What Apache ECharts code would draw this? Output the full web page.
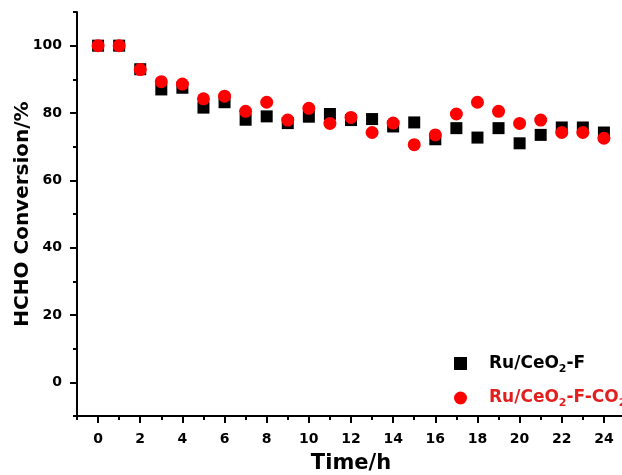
<!DOCTYPE html>
<html>
<head>
<meta charset="utf-8">
<script src="https://cdn.jsdelivr.net/npm/echarts@6/dist/echarts.min.js"></script>
<style>
  html, body { margin: 0; padding: 0; background: #fff; }
  #chart { width: 622px; height: 475px; }
</style>
</head>
<body>
<div id="chart"></div>
<script>
const hours = [0, 1, 2, 3, 4, 5, 6, 7, 8, 9, 10, 11, 12, 13, 14, 15, 16, 17, 18, 19, 20, 21, 22, 23, 24]
const ruF = [100, 100, 93, 87, 87.5, 81.6, 83.2, 78, 79, 77, 78.9, 79.7, 77.9, 78.2, 76, 77.2, 72.2, 75.5, 72.7, 75.5, 71, 73.5, 75.7, 75.7, 74.2]
const ruFCO2 = [100, 100, 92.9, 89.3, 88.6, 84.2, 85, 80.5, 83.2, 77.9, 81.4, 76.9, 78.7, 74.2, 77, 70.6, 73.5, 79.7, 83.2, 80.5, 76.9, 77.9, 74.2, 74.2, 72.5]
const xLabels = [0, 2, 4, 6, 8, 10, 12, 14, 16, 18, 20, 22, 24]
const yLabels = [0, 20, 40, 60, 80, 100]

const font = '"DejaVu Sans", Arial, sans-serif'
const chart = echarts.init(document.getElementById('chart'))

const tickLine = { color: '#000', width: 2 }

chart.setOption({
  backgroundColor: '#fff',
  animation: false,
  grid: { left: 77, right: -3, top: 12, bottom: 59, outerBoundsMode: 'none' },
  legend: {
    orient: 'vertical',
    left: 449,
    top: 350,
    itemWidth: 13,
    itemHeight: 13,
    itemGap: 15,
    selectedMode: false,
    data: [
      { name: 'Ru/CeO2-F', icon: 'rect' },
      { name: 'Ru/CeO2-F-CO2', icon: 'circle' },
    ],
    formatter: (name) =>
      name === 'Ru/CeO2-F'
        ? '{g|}{t|Ru/CeO}{s|2}{t|-F}'
        : '{g|}{r|Ru/CeO}{rs|2}{r|-F-CO}{rs|2}',
    textStyle: {
      fontFamily: font,
      rich: {
        g: { width: 17 },
        t: { color: '#000', fontSize: 17, fontWeight: 'bold', fontFamily: font, lineHeight: 22 },
        s: { color: '#000', fontSize: 11, fontWeight: 'bold', fontFamily: font, lineHeight: 12, verticalAlign: 'bottom' },
        r: { color: '#e11f1f', fontSize: 17, fontWeight: 'bold', fontFamily: font, lineHeight: 22 },
        rs: { color: '#e11f1f', fontSize: 11, fontWeight: 'bold', fontFamily: font, lineHeight: 12, verticalAlign: 'bottom' },
      },
    },
  },
  xAxis: [
    {
      type: 'value',
      min: -1,
      max: 25,
      interval: 1,
      name: 'Time/h',
      nameLocation: 'middle',
      nameGap: 37,
      nameTextStyle: { color: '#000', fontSize: 21, fontWeight: 'bold', fontFamily: font },
      axisLine: { onZero: false, lineStyle: { color: '#000', width: 2 } },
      splitLine: { show: false },
      axisTick: { length: 4, lineStyle: tickLine },
      axisLabel: {
        customValues: xLabels,
        color: '#000',
        fontSize: 14,
        fontWeight: 'bold',
        fontFamily: font,
        margin: 16,
      },
    },
    {
      type: 'value',
      min: -1,
      max: 25,
      interval: 1,
      position: 'bottom',
      axisLine: { show: false, onZero: false },
      splitLine: { show: false },
      axisLabel: { show: false },
      axisTick: { customValues: xLabels, length: 7, lineStyle: tickLine },
    },
  ],
  yAxis: [
    {
      type: 'value',
      min: -10,
      max: 110,
      interval: 10,
      name: 'HCHO Conversion/%',
      nameLocation: 'middle',
      nameGap: 44,
      nameMoveOverlap: false,
      nameTextStyle: { color: '#000', fontSize: 20, fontWeight: 'bold', fontFamily: font },
      axisLine: { show: true, onZero: false, lineStyle: { color: '#000', width: 2 } },
      splitLine: { show: false },
      axisTick: { show: true, length: 4, lineStyle: tickLine },
      axisLabel: {
        customValues: yLabels,
        color: '#000',
        fontSize: 14,
        fontWeight: 'bold',
        fontFamily: font,
        margin: 15,
      },
    },
    {
      type: 'value',
      min: -10,
      max: 110,
      interval: 10,
      position: 'left',
      axisLine: { show: false, onZero: false },
      splitLine: { show: false },
      axisLabel: { show: false },
      axisTick: { show: true, customValues: yLabels, length: 7, lineStyle: tickLine },
    },
  ],
  series: [
    {
      name: 'Ru/CeO2-F',
      type: 'scatter',
      symbol: 'rect',
      symbolSize: 12,
      itemStyle: { color: '#000', opacity: 1 },
      data: hours.map((h, i) => [h, ruF[i]]),
    },
    {
      name: 'Ru/CeO2-F-CO2',
      type: 'scatter',
      symbol: 'circle',
      symbolSize: 13,
      itemStyle: { color: '#ff0000', opacity: 1 },
      data: hours.map((h, i) => [h, ruFCO2[i]]),
    },
  ],
})

window.addEventListener('resize', () => chart.resize())
</script>
</body>
</html>
